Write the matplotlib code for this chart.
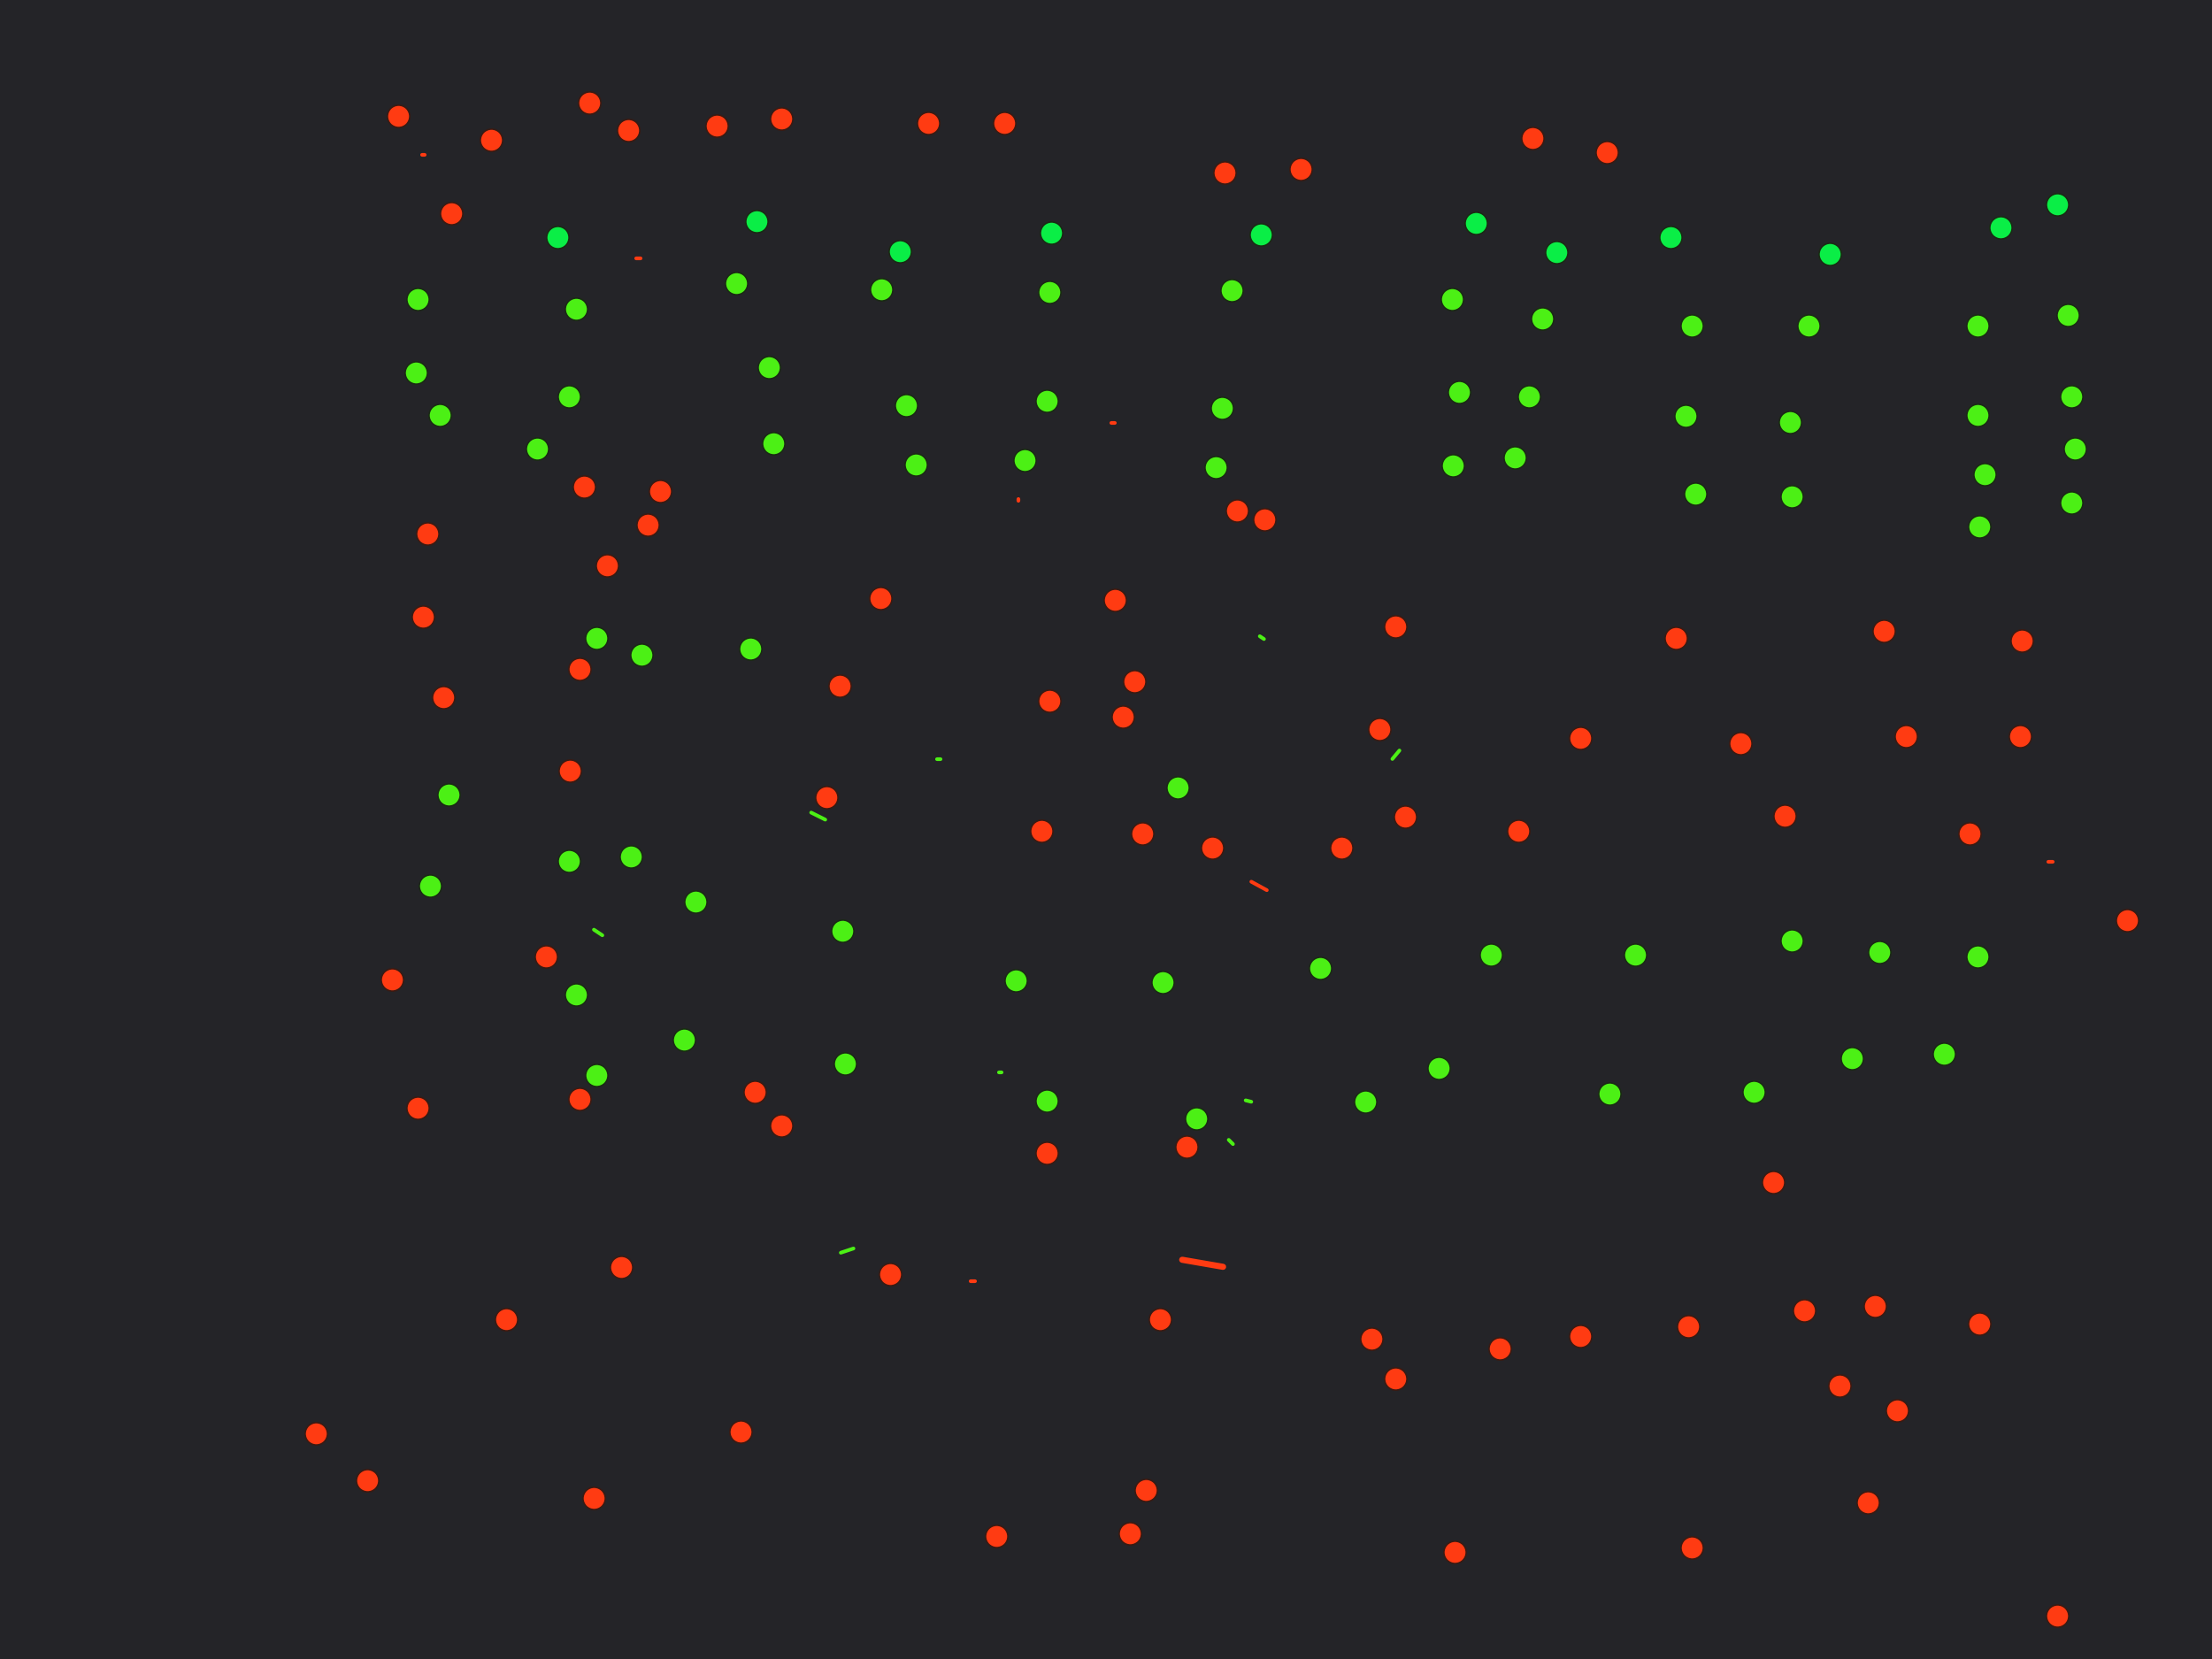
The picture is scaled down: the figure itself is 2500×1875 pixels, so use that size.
import matplotlib
matplotlib.use("Agg")
import matplotlib.pyplot as plt

# Coordinates read in a 1568x1176 frame (y grows downward)
red_x = [282,348,418,445,508,554,658,712,868,922,1086,1139,
         320,
         414,468,459,303,430,877,896,
         300,624,790,989,1188,1335,1433,
         411,314,595,744,804,796,978,1120,1234,1351,1432,
         404,586,738,810,859,951,996,1076,1265,1396,
         1508,
         278,387,
         296,411,535,554,742,841,1257,
         440,631,359,822,972,1063,1120,1197,1279,1329,1403,989,1304,1345,
         224,525,260,421,812,706,801,1031,1199,1324,1458]
red_y = [82,99,73,92,89,84,87,87,122,120,98,108,
         151,
         345,348,372,378,401,362,368,
         437,424,425,444,452,447,454,
         474,494,486,497,483,508,517,523,527,522,522,
         546,565,589,591,601,601,579,589,578,591,
         652,
         694,678,
         785,779,774,798,817,813,838,
         898,903,935,935,949,956,947,940,929,926,938,977,982,1000,
         1016,1015,1049,1062,1056,1089,1087,1100,1097,1065,1145]

teal_x = [395,536,638,745,894,1046,1103,1184,1297,1418,1458]
teal_y = [168,157,178,165,166,158,179,168,180,161,145]

green_x = [296,408,522,625,744,873,1029,1093,1199,1282,1402,1466,
           295,545,403,312,642,742,866,1034,1084,1195,1269,1402,1468,
           381,548,649,726,862,1030,1074,1407,1471,1202,1270,1403,1468,
           423,455,532,
           835,318,403,447,305,493,597,
           720,824,936,1057,1159,1270,1332,1402,
           408,485,423,599,742,848,968,1020,1141,1243,1313,1378]
green_y = [212,219,201,205,207,206,212,226,231,231,231,223,
           264,260,281,294,287,284,289,278,281,295,299,294,281,
           318,314,329,326,331,330,324,336,318,350,352,373,356,
           452,464,460,
           558,563,610,607,628,639,660,
           695,696,686,677,677,667,675,678,
           705,737,762,754,780,793,781,757,775,774,750,747]

# small streak marks: (x0, y0, x1, y1)
red_streaks = [(838,893,867,898),(887,625,898,631),(299,110,301,110),(451,183,454,183),
               (788,300,790,300),(722,354,722,355),(688,908,691,908),(1452,611,1455,611)]
green_streaks = [(575,576,585,581),(596,888,605,885),(987,538,992,532),(421,659,427,663),
                 (871,808,874,811),(883,780,887,781),(893,451,896,453),(664,538,667,538),
                 (708,760,710,760)]

BG = "#242428"
RED = "#ff3b12"
GREEN = "#4cf015"
TEAL = "#0aee46"

fig = plt.figure(figsize=(25, 18.75), dpi=100, facecolor=BG)
ax = fig.add_axes([0, 0, 1, 1])
ax.set_facecolor(BG)
ax.set_xlim(0, 1568)
ax.set_ylim(1176, 0)
ax.axis("off")

s = 330
for xs, ys, c in [(red_x, red_y, RED), (teal_x, teal_y, TEAL), (green_x, green_y, GREEN)]:
    ax.scatter(xs, ys, s=s, c=c, edgecolors="#1a2a14" if c != RED else "#3a1a12",
               linewidths=1.2, zorder=3)

for (x0, y0, x1, y1) in red_streaks:
    lw = 5 if abs(x1 - x0) > 20 else 3
    ax.plot([x0, x1], [y0, y1], color=RED, lw=lw, solid_capstyle="round", zorder=2)
for (x0, y0, x1, y1) in green_streaks:
    ax.plot([x0, x1], [y0, y1], color=GREEN, lw=3, solid_capstyle="round", zorder=2)

fig.savefig("out.png", dpi=100, facecolor=BG)
